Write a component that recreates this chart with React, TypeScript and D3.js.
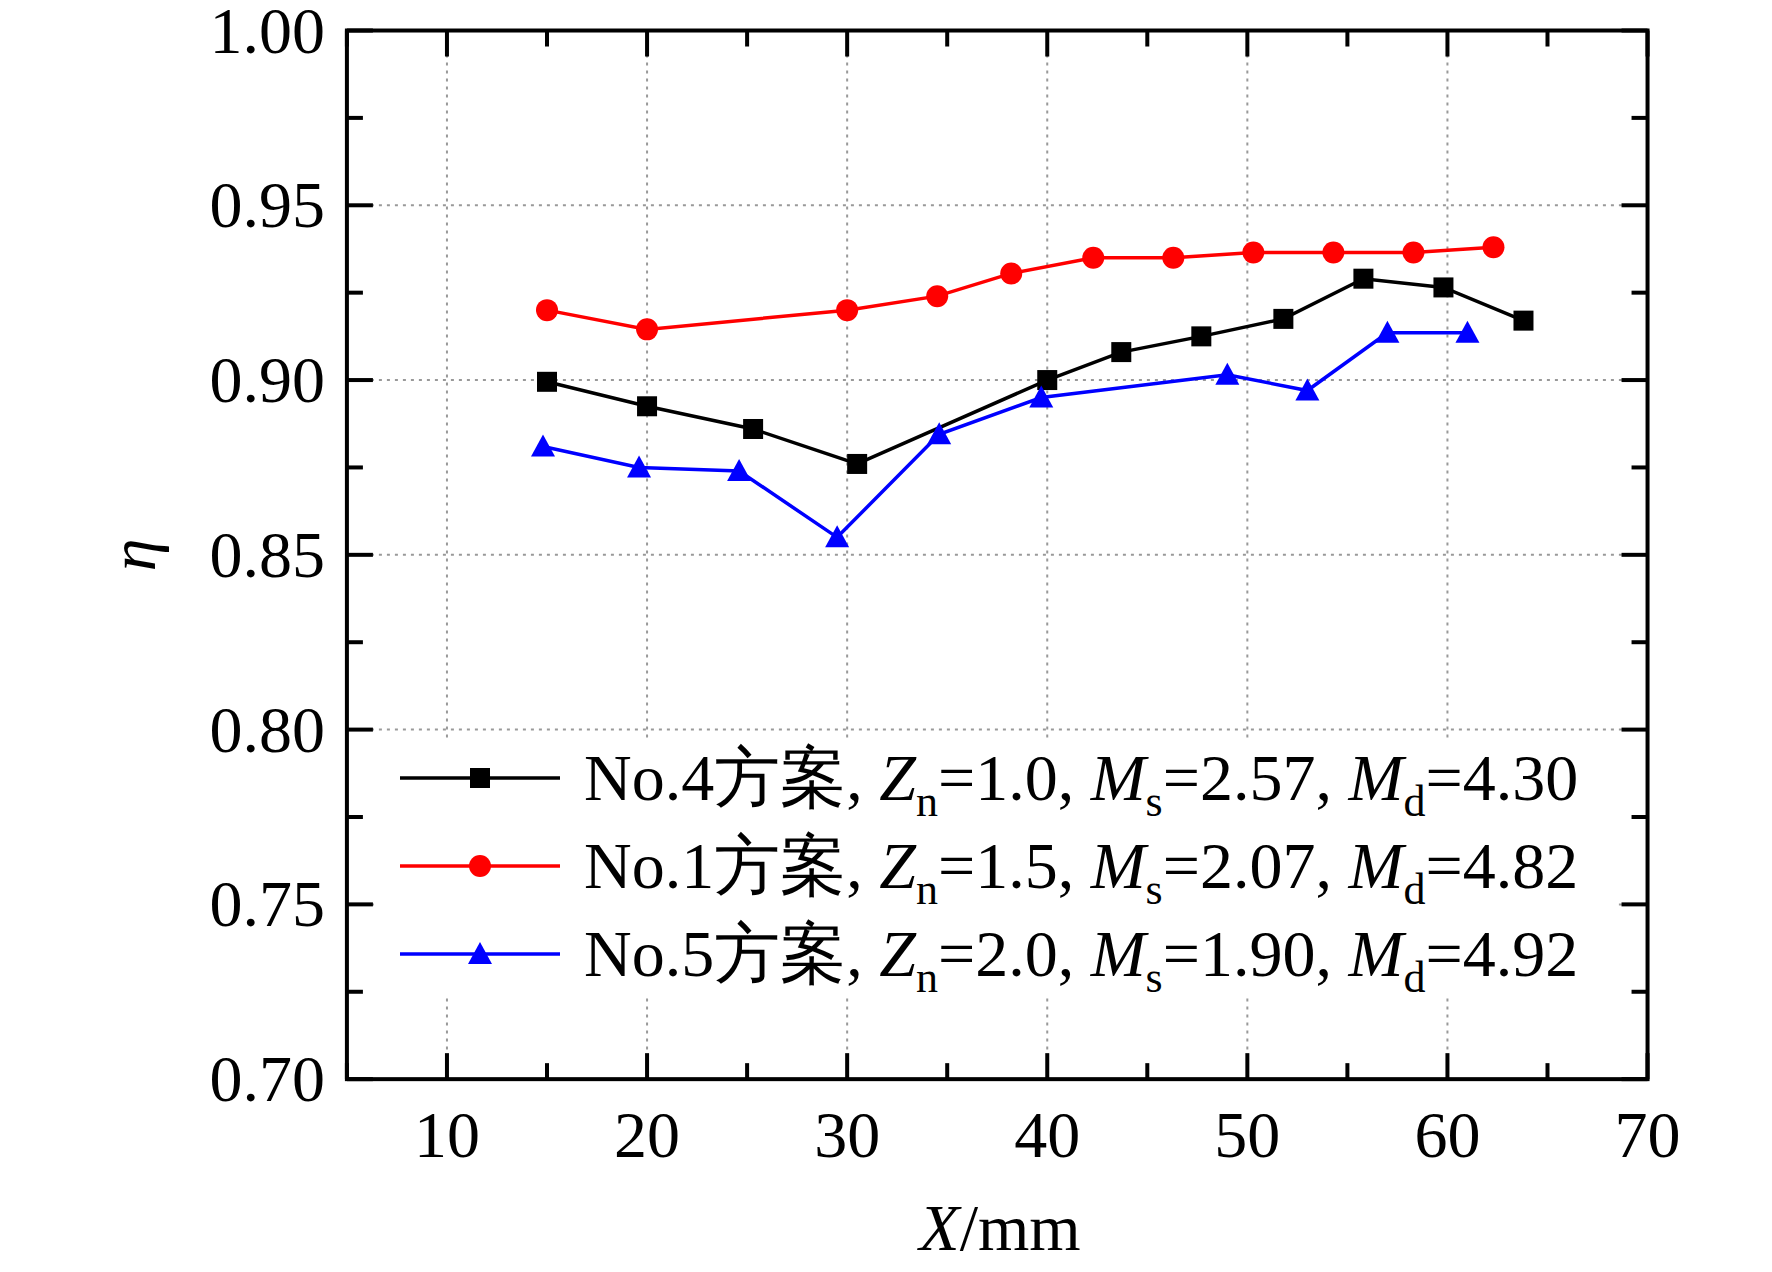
import * as d3 from "d3";

const S = 1.13;
const xTicks = [10, 20, 30, 40, 50, 60, 70];
const yTicks = [0.7, 0.75, 0.8, 0.85, 0.9, 0.95, 1.0];

const blackX = [15, 20, 25.3, 30.5, 40, 43.7, 47.7, 51.8, 55.8, 59.8, 63.8];
const blackY = [0.8995, 0.8925, 0.886, 0.876, 0.9, 0.908, 0.9125, 0.9175, 0.929, 0.9265, 0.917];
const redX = [15, 20, 30, 34.5, 38.2, 42.3, 46.3, 50.3, 54.3, 58.3, 62.3];
const redY = [0.92, 0.9145, 0.92, 0.924, 0.9305, 0.935, 0.935, 0.9365, 0.9365, 0.9365, 0.938];
const blueX = [14.8, 19.6, 24.6, 29.5, 34.6, 39.7, 49, 53, 57, 61];
const blueY = [0.881, 0.875, 0.874, 0.855, 0.8845, 0.895, 0.9015, 0.897, 0.9135, 0.9135];

const series = [
  { name: "No.4方案", zn: "1.0", ms: "2.57", md: "4.30", color: "#000", shape: "square", xs: blackX, ys: blackY },
  { name: "No.1方案", zn: "1.5", ms: "2.07", md: "4.82", color: "#ff0000", shape: "circle", xs: redX, ys: redY },
  { name: "No.5方案", zn: "2.0", ms: "1.90", md: "4.92", color: "#0000ff", shape: "triangle", xs: blueX, ys: blueY },
];

function Marker({ shape, x, y, color }: { shape: string; x: number; y: number; color: string }) {
  if (shape === "square") return <rect x={x - 10} y={y - 10} width={20} height={20} fill={color} />;
  if (shape === "circle") return <circle cx={x} cy={y} r={11} fill={color} />;
  return <path d={`M${x},${y - 12}L${x + 12},${y + 10}L${x - 12},${y + 10}Z`} fill={color} />;
}

export default function App() {
  const L = 307 * S, R = 1458 * S, T = 27 * S, B = 955 * S;
  const x = d3.scaleLinear().domain([5, 70]).range([L, R]);
  const y = d3.scaleLinear().domain([0.7, 1.0]).range([B, T]);
  const line = d3.line<[number, number]>().x((d) => x(d[0])).y((d) => y(d[1]));
  const font = "'Liberation Serif', 'Times New Roman', serif";
  const fs = 66;
  const sub = 44;
  const xMinor = d3.range(5, 70.1, 5);
  const yMinor = d3.range(0.7, 1.0001, 0.025);
  return (
    <svg width={1772} height={1272} style={{ position: "absolute", left: 0, top: 0, background: "#fff" }} fontFamily={font}>
      <rect width={1772} height={1272} fill="#fff" />
      {xTicks.slice(0, -1).map((t) => (
        <line key={"gx" + t} x1={x(t)} x2={x(t)} y1={T} y2={B} stroke="#999" strokeWidth={2} strokeDasharray="3,5" />
      ))}
      {yTicks.slice(1, -1).map((t) => (
        <line key={"gy" + t} x1={L} x2={R} y1={y(t)} y2={y(t)} stroke="#999" strokeWidth={2} strokeDasharray="3,5" />
      ))}
      {xMinor.map((t, i) => {
        const len = i % 2 === 1 ? 26 : 16;
        return (
          <g key={"tx" + i}>
            <line x1={x(t)} x2={x(t)} y1={B} y2={B - len} stroke="#000" strokeWidth={4} />
            <line x1={x(t)} x2={x(t)} y1={T} y2={T + len} stroke="#000" strokeWidth={4} />
          </g>
        );
      })}
      {yMinor.map((t, i) => {
        const len = i % 2 === 0 ? 26 : 16;
        return (
          <g key={"ty" + i}>
            <line x1={L} x2={L + len} y1={y(t)} y2={y(t)} stroke="#000" strokeWidth={4} />
            <line x1={R} x2={R - len} y1={y(t)} y2={y(t)} stroke="#000" strokeWidth={4} />
          </g>
        );
      })}
      <rect x={L} y={T} width={R - L} height={B - T} fill="none" stroke="#000" strokeWidth={4} />
      {xTicks.map((t) => (
        <text key={"lx" + t} x={x(t)} y={B + 78} fontSize={fs} textAnchor="middle">{t}</text>
      ))}
      {yTicks.map((t) => (
        <text key={"ly" + t} x={L - 22} y={y(t) + 22} fontSize={fs} textAnchor="end">{t.toFixed(2)}</text>
      ))}
      <text x={1000} y={1250} fontSize={fs} textAnchor="middle">
        <tspan fontStyle="italic">X</tspan>/mm
      </text>
      <text transform={`translate(${155},${y(0.85)}) rotate(-90)`} fontSize={fs} fontStyle="italic" textAnchor="middle">η</text>
      {series.map((s) => (
        <g key={s.name}>
          <path d={line(s.xs.map((v, i) => [v, s.ys[i]]))!} fill="none" stroke={s.color} strokeWidth={3.5} />
          {s.xs.map((v, i) => (
            <Marker key={i} shape={s.shape} x={x(v)} y={y(s.ys[i])} color={s.color} />
          ))}
        </g>
      ))}
      <rect x={375} y={738} width={1240} height={258} fill="#fff" />
      {series.map((s, i) => {
        const ly = 778 + i * 88;
        return (
          <g key={"lg" + i}>
            <line x1={400} x2={560} y1={ly} y2={ly} stroke={s.color} strokeWidth={3.5} />
            <Marker shape={s.shape} x={480} y={ly} color={s.color} />
            <text x={584} y={ly + 22} fontSize={fs}>
              {s.name}, <tspan fontStyle="italic">Z</tspan><tspan fontSize={sub} dy={16}>n</tspan>
              <tspan dy={-16}>={s.zn}, </tspan><tspan fontStyle="italic">M</tspan><tspan fontSize={sub} dy={16}>s</tspan>
              <tspan dy={-16}>={s.ms}, </tspan><tspan fontStyle="italic">M</tspan><tspan fontSize={sub} dy={16}>d</tspan>
              <tspan dy={-16}>={s.md}</tspan>
            </text>
          </g>
        );
      })}
    </svg>
  );
}
